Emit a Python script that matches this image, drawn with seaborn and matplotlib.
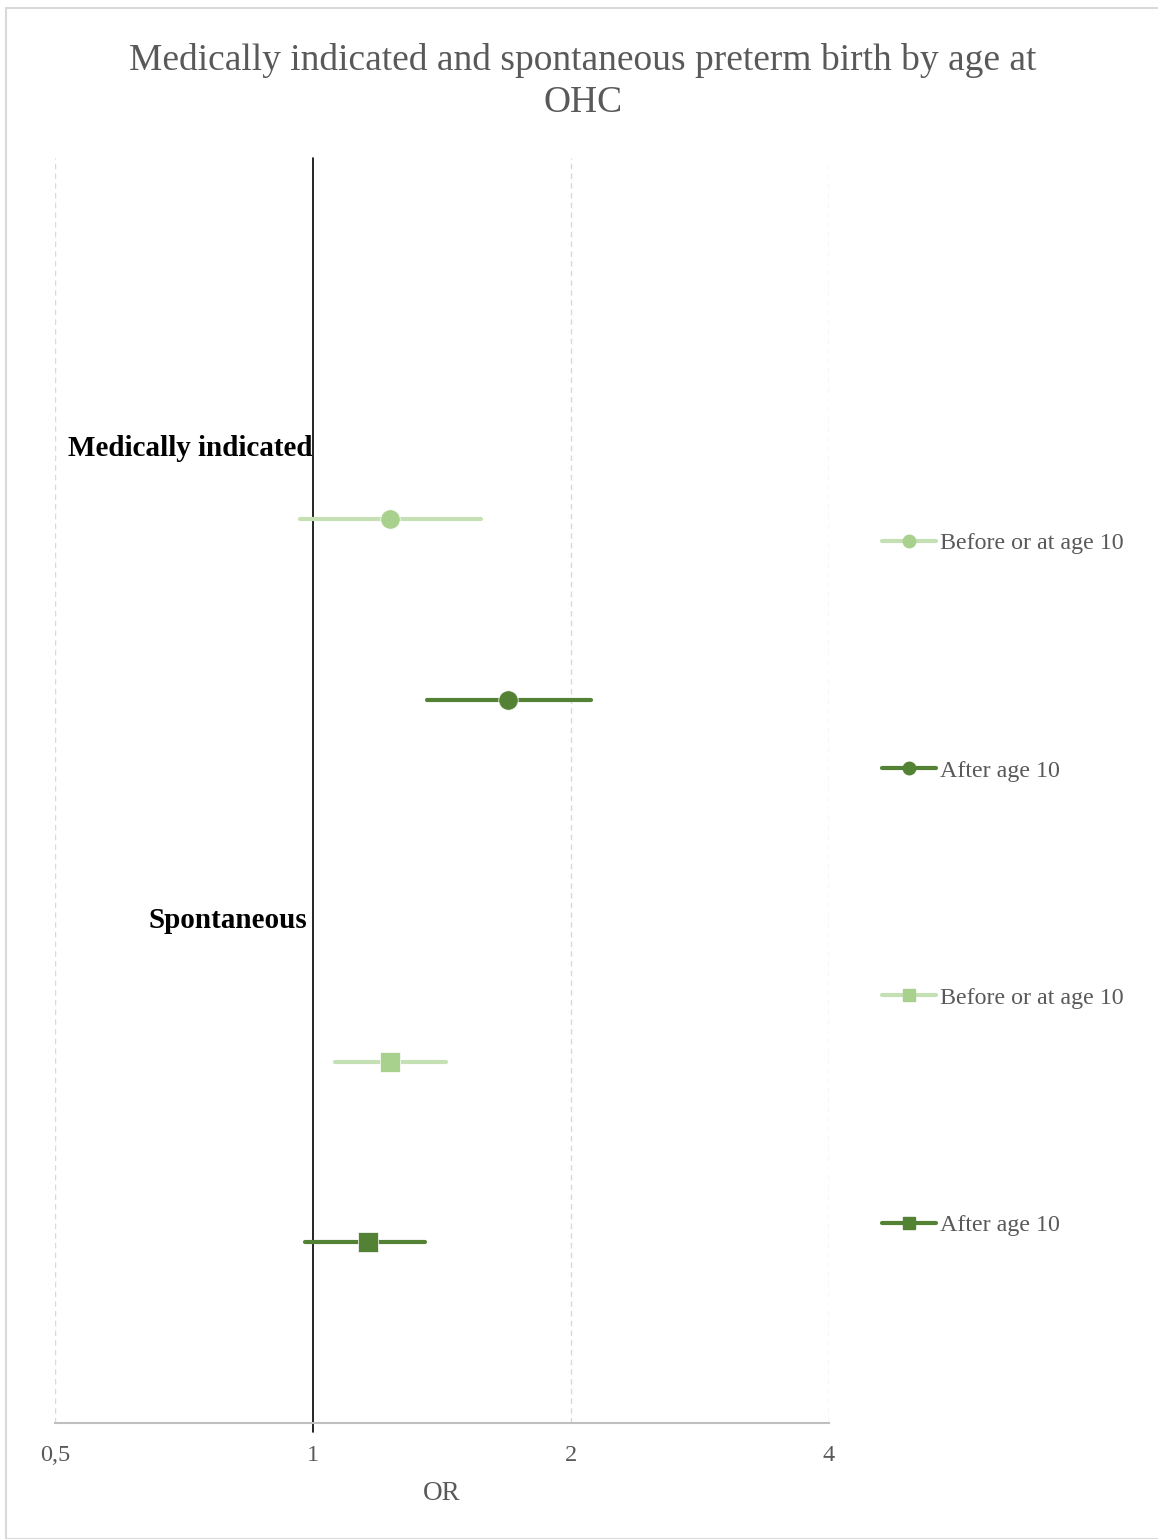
import numpy as np
import pandas as pd
import matplotlib.pyplot as plt
import matplotlib.patches as mpatches
from matplotlib.lines import Line2D
import seaborn as sns

# Odds ratios with 95% CI
groups = ['Medically indicated', 'Medically indicated', 'Spontaneous', 'Spontaneous']
age = ['Before or at age 10', 'After age 10', 'Before or at age 10', 'After age 10']
odds = [1.23, 1.69, 1.23, 1.16]
ci_low = [0.966, 1.36, 1.06, 0.979]
ci_high = [1.57, 2.11, 1.43, 1.35]
row = [2, 3, 5, 6]
group_label_pos = [1.61, 4.22]
group_label_x = [1.0, 0.985]
xticks = [0.5, 1, 2, 4]
xtick_labels = ['0,5', '1', '2', '4']

df = pd.DataFrame({'group': groups, 'age': age, 'OR': odds,
                   'lo': ci_low, 'hi': ci_high, 'row': row})

light_line = '#c5e0b4'
light_mark = '#a9d18e'
dark = '#548235'
line_cols = [light_line, dark, light_line, dark]
mark_cols = [light_mark, dark, light_mark, dark]
markers = ['o', 'o', 's', 's']
grey = '#595959'

sns.set_theme(style='white')
plt.rcParams['font.family'] = ['Liberation Serif', 'DejaVu Serif']

fig = plt.figure(figsize=(11.58, 15.39), dpi=100)
ax = fig.add_axes([55 / 1158, 116 / 1539, 774 / 1158, 1265 / 1539])

for i, r in df.iterrows():
    ax.plot([r['lo'], r['hi']], [r['row'], r['row']], color=line_cols[i],
            lw=3, solid_capstyle='round', zorder=3)
    ax.plot(r['OR'], r['row'], marker=markers[i], ms=14, color=mark_cols[i],
            mec='white', mew=0.5, ls='none', zorder=4)

ax.set_xscale('log', base=2)
ax.set_xlim(0.5, 4)
ax.set_ylim(7, 0)
ax.set_xticks(xticks)
ax.set_xticklabels(xtick_labels)
ax.minorticks_off()
ax.set_yticks([])
for x in [0.5, 2, 4]:
    ax.axvline(x, color='#d9d9d9', lw=1, ls=(0, (4, 3)), zorder=1)
ax.axvline(1, ymin=-0.007, ymax=1, color='black', lw=1.2, zorder=2, clip_on=False)

for s in ['top', 'right', 'left']:
    ax.spines[s].set_visible(False)
ax.spines['bottom'].set_color('#bfbfbf')
ax.spines['bottom'].set_linewidth(1.5)
ax.tick_params(axis='x', length=0, pad=16, labelsize=17.5, labelcolor=grey)
ax.set_xlabel('OR', fontsize=19.5, color=grey, labelpad=11)

for g, yp, xp in zip(['Medically indicated', 'Spontaneous'], group_label_pos, group_label_x):
    ax.text(xp, yp, g, ha='right', va='center', fontsize=21,
            fontweight='bold', color='black')

fig.suptitle('Medically indicated and spontaneous preterm birth by age at\nOHC',
             x=583 / 1158, y=0.972, fontsize=27, color=grey, linespacing=1.27)

handles = [Line2D([0], [0], color=line_cols[i], lw=3, marker=markers[i],
                  ms=9, mfc=mark_cols[i], mec=mark_cols[i]) for i in range(4)]
fig.legend(handles, df['age'].tolist(), loc='center left',
           bbox_to_anchor=(860 / 1158, 0.4254), frameon=False, fontsize=17.3,
           labelcolor=grey, handlelength=2.25, handletextpad=0.2,
           labelspacing=8.55)

fig.patches.append(mpatches.Rectangle((6 / 1158, 0), 1, 1531 / 1539, fill=False,
                                      edgecolor='#d9d9d9', lw=1.5,
                                      transform=fig.transFigure))

fig.savefig('out.png', dpi=100)
